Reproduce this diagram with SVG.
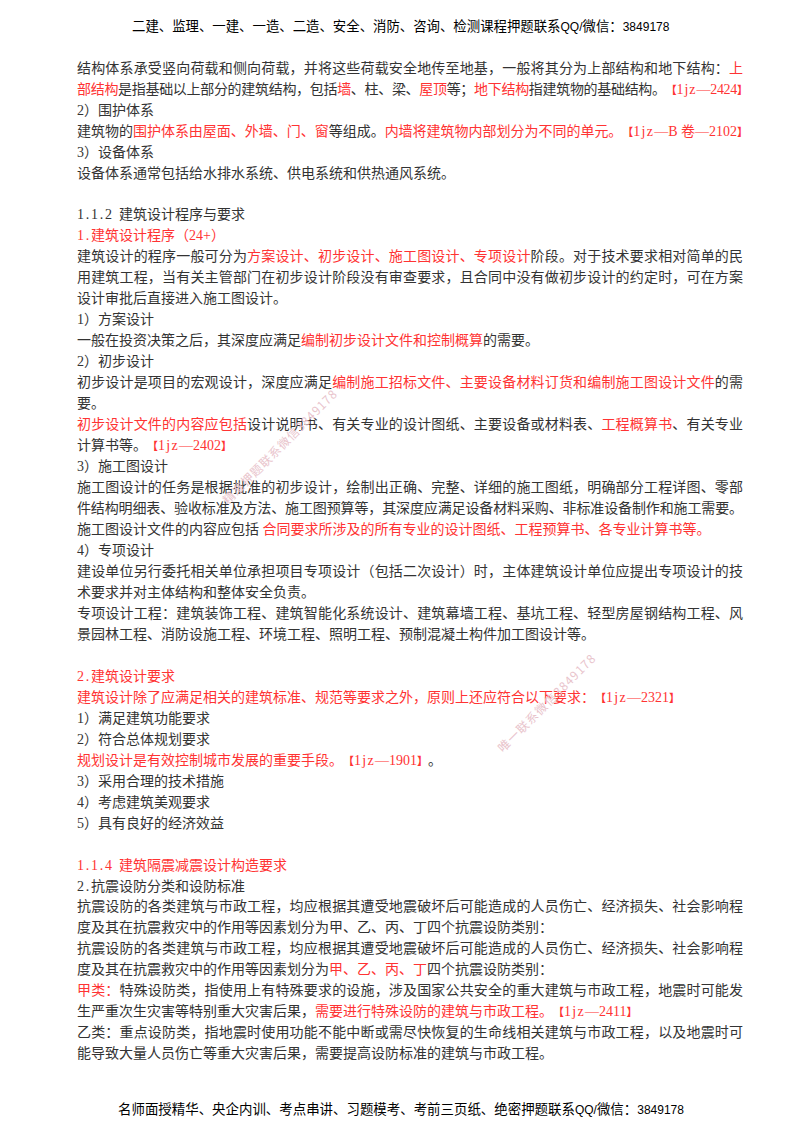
<svg xmlns="http://www.w3.org/2000/svg" width="800" height="1132" viewBox="0 0 800 1132">
<style>
text{font-family:"Liberation Serif","Noto Sans CJK SC",serif;font-size:14px;fill:#333;white-space:pre;text-spacing-trim:space-all}
.r{fill:#f33}
.z{letter-spacing:1.3px}
.n{letter-spacing:1.75px}
.b{font-size:11px;font-weight:700}
.h{font-family:"Noto Sans CJK SC","Liberation Sans",sans-serif;font-size:13.4px;fill:#000;font-weight:400}
.l{font-family:"Liberation Sans",sans-serif;font-size:12px}
.w{font-family:"Noto Sans CJK SC",sans-serif;font-size:12px;fill:#e9c4cc}
</style>
<rect width="800" height="1132" fill="#fff"/>
<text class="h" x="132" y="31">二建、监理、一建、一造、二造、安全、消防、咨询、检测课程押题联系<tspan class="l">QQ/</tspan>微信：<tspan class="l">3849178</tspan></text>
<text x="77" y="73" textLength="666">结构体系承受竖向荷载和侧向荷载，并将这些荷载安全地传至地基，一般将其分为上部结构和地下结构：<tspan class="r">上</tspan></text>
<text x="77" y="94" textLength="671"><tspan class="r">部结构</tspan>是指基础以上部分的建筑结构，包括<tspan class="r">墙</tspan>、柱、梁、<tspan class="r">屋顶</tspan>等；<tspan class="r">地下结构</tspan>指建筑物的基础结构。<tspan class="r"><tspan class="b">【</tspan><tspan class="z">1jz</tspan>—2424<tspan class="b">】</tspan></tspan></text>
<text x="77" y="115">2）围护体系</text>
<text x="77" y="136" textLength="671">建筑物的<tspan class="r">围护体系由屋面、外墙、门、窗</tspan>等组成。<tspan class="r">内墙将建筑物内部划分为不同的单元。<tspan class="b">【</tspan><tspan class="z">1jz</tspan>—B 卷—2102<tspan class="b">】</tspan></tspan></text>
<text x="77" y="157">3）设备体系</text>
<text x="77" y="178">设备体系通常包括给水排水系统、供电系统和供热通风系统。</text>
<text x="77" y="219"><tspan class="n">1.1.2 </tspan>建筑设计程序与要求</text>
<text class="r" x="77" y="240"><tspan class="n">1.</tspan>建筑设计程序（24+）</text>
<text x="77" y="261" textLength="666">建筑设计的程序一般可分为<tspan class="r">方案设计、初步设计、施工图设计、专项设计</tspan>阶段。对于技术要求相对简单的民</text>
<text x="77" y="282" textLength="666">用建筑工程，当有关主管部门在初步设计阶段没有审查要求，且合同中没有做初步设计的约定时，可在方案</text>
<text x="77" y="303">设计审批后直接进入施工图设计。</text>
<text x="77" y="324">1）方案设计</text>
<text x="77" y="345">一般在投资决策之后，其深度应满足<tspan class="r">编制初步设计文件和控制概算</tspan>的需要。</text>
<text x="77" y="366">2）初步设计</text>
<text x="77" y="387" textLength="666">初步设计是项目的宏观设计，深度应满足<tspan class="r">编制施工招标文件、主要设备材料订货和编制施工图设计文件</tspan>的需</text>
<text x="77" y="408">要。</text>
<text x="77" y="429" textLength="666"><tspan class="r">初步设计文件的内容应包括</tspan>设计说明书、有关专业的设计图纸、主要设备或材料表、<tspan class="r">工程概算书</tspan>、有关专业</text>
<text x="77" y="450">计算书等。<tspan class="r"><tspan class="b">【</tspan><tspan class="z">1jz</tspan>—2402<tspan class="b">】</tspan></tspan></text>
<text x="77" y="471">3）施工图设计</text>
<text x="77" y="492" textLength="666">施工图设计的任务是根据批准的初步设计，绘制出正确、完整、详细的施工图纸，明确部分工程详图、零部</text>
<text x="77" y="513" textLength="666">件结构明细表、验收标准及方法、施工图预算等，其深度应满足设备材料采购、非标准设备制作和施工需要。</text>
<text x="77" y="534">施工图设计文件的内容应包括 <tspan class="r">合同要求所涉及的所有专业的设计图纸、工程预算书、各专业计算书等。</tspan></text>
<text x="77" y="555">4）专项设计</text>
<text x="77" y="576" textLength="666">建设单位另行委托相关单位承担项目专项设计（包括二次设计）时，主体建筑设计单位应提出专项设计的技</text>
<text x="77" y="597">术要求并对主体结构和整体安全负责。</text>
<text x="77" y="618" textLength="666">专项设计工程：建筑装饰工程、建筑智能化系统设计、建筑幕墙工程、基坑工程、轻型房屋钢结构工程、风</text>
<text x="77" y="639">景园林工程、消防设施工程、环境工程、照明工程、预制混凝土构件加工图设计等。</text>
<text class="r" x="77" y="681"><tspan class="n">2.</tspan>建筑设计要求</text>
<text class="r" x="77" y="702">建筑设计除了应满足相关的建筑标准、规范等要求之外，原则上还应符合以下要求：<tspan class="b">【</tspan><tspan class="z">1jz</tspan>—2321<tspan class="b">】</tspan></text>
<text x="77" y="723">1）满足建筑功能要求</text>
<text x="77" y="744">2）符合总体规划要求</text>
<text x="77" y="765"><tspan class="r">规划设计是有效控制城市发展的重要手段。<tspan class="b">【</tspan><tspan class="z">1jz</tspan>—1901<tspan class="b">】</tspan></tspan>。</text>
<text x="77" y="786">3）采用合理的技术措施</text>
<text x="77" y="807">4）考虑建筑美观要求</text>
<text x="77" y="828">5）具有良好的经济效益</text>
<text class="r" x="77" y="870"><tspan class="n">1.1.4 </tspan>建筑隔震减震设计构造要求</text>
<text x="77" y="891"><tspan class="n">2.</tspan>抗震设防分类和设防标准</text>
<text x="77" y="911" textLength="666">抗震设防的各类建筑与市政工程，均应根据其遭受地震破坏后可能造成的人员伤亡、经济损失、社会影响程</text>
<text x="77" y="932">度及其在抗震救灾中的作用等因素划分为甲、乙、丙、丁四个抗震设防类别：</text>
<text x="77" y="953" textLength="666">抗震设防的各类建筑与市政工程，均应根据其遭受地震破坏后可能造成的人员伤亡、经济损失、社会影响程</text>
<text x="77" y="974">度及其在抗震救灾中的作用等因素划分为<tspan class="r">甲、乙、丙、丁</tspan>四个抗震设防类别：</text>
<text x="77" y="995" textLength="666"><tspan class="r">甲类：</tspan>特殊设防类，指使用上有特殊要求的设施，涉及国家公共安全的重大建筑与市政工程，地震时可能发</text>
<text x="77" y="1016">生严重次生灾害等特别重大灾害后果，<tspan class="r">需要进行特殊设防的建筑与市政工程。<tspan class="b">【</tspan><tspan class="z">1jz</tspan>—2411<tspan class="b">】</tspan></tspan></text>
<text x="77" y="1037" textLength="666">乙类：重点设防类，指地震时使用功能不能中断或需尽快恢复的生命线相关建筑与市政工程，以及地震时可</text>
<text x="77" y="1058">能导致大量人员伤亡等重大灾害后果，需要提高设防标准的建筑与市政工程。</text>
<text class="h" x="118" y="1114" style="font-size:13.44px">名师面授精华、央企内训、考点串讲、习题模考、考前三页纸、绝密押题联系<tspan class="l">QQ/</tspan>微信：<tspan class="l">3849178</tspan></text>
<text class="w" transform="translate(228 505) rotate(-45)" textLength="155">精准押题联系微信3849178</text>
<text class="w" transform="translate(503 753) rotate(-45)" textLength="132">唯一联系微信3849178</text>
</svg>
